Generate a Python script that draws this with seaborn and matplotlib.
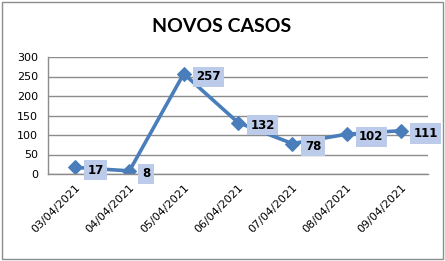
import matplotlib
matplotlib.use("Agg")
import matplotlib.pyplot as plt
import seaborn as sns
import numpy as np
from matplotlib.patches import Rectangle

dates = ["03/04/2021", "04/04/2021", "05/04/2021", "06/04/2021",
         "07/04/2021", "08/04/2021", "09/04/2021"]
cases = [17, 8, 257, 132, 78, 102, 111]
yticks = [0, 50, 100, 150, 200, 250, 300]
title = "NOVOS CASOS"

sns.set_style("white")
plt.rcParams['font.family'] = ['DejaVu Sans']
plt.rcParams['text.color'] = 'black'

fig = plt.figure(figsize=(4.45, 2.61), dpi=100)
fig.patches.append(Rectangle((2/445, 2/261), 441/445, 257/261, transform=fig.transFigure,
                             fill=False, edgecolor='#8c8c8c', lw=1))
ax = fig.add_axes([48/445, (261-174)/261, 380/445, 117/261])

sns.lineplot(x=list(range(len(dates))), y=cases, ax=ax, color='#4a7ebb', lw=2.6,
             marker='D', markersize=7, markeredgecolor='#4a7ebb')

ax.set_xlim(-0.5, len(dates) - 0.5)
ax.set_ylim(0, 300)
ax.set_yticks(yticks)
ax.set_yticklabels([str(v) for v in yticks], fontsize=8, color='black')
ax.yaxis.grid(True, color='#8c8c8c', lw=1)
ax.set_axisbelow(True)

ax.set_xticks(np.arange(-0.5, len(dates)), minor=False)
ax.set_xticklabels([])
ax.set_xticks(range(len(dates)), minor=True)
ax.set_xticklabels(dates, minor=True, rotation=45, ha='right', rotation_mode='anchor',
                   fontsize=8, color='black')
ax.tick_params(axis='x', which='major', direction='out', length=4, color='#8c8c8c', width=1)
ax.tick_params(axis='x', which='minor', length=0, pad=6)
ax.tick_params(axis='y', direction='out', length=3, color='#8c8c8c', pad=4)

for s in ['top', 'right']:
    ax.spines[s].set_visible(False)
for s in ['left', 'bottom']:
    ax.spines[s].set_color('#8c8c8c')
    ax.spines[s].set_linewidth(1)

for i, v in enumerate(cases):
    ax.annotate(str(v), (i, v), xytext=(9, -2), textcoords='offset points',
                ha='left', va='center', fontsize=8.5, fontweight='bold', color='black',
                bbox=dict(boxstyle='square,pad=0.3', facecolor='#bccbea', edgecolor='none'))

fig.text(222/445, 1 - 27/261, title, ha='center', va='center', fontsize=14,
         fontweight='bold', color='black', family=['Lato', 'DejaVu Sans'])

fig.savefig("out.png", dpi=100)
